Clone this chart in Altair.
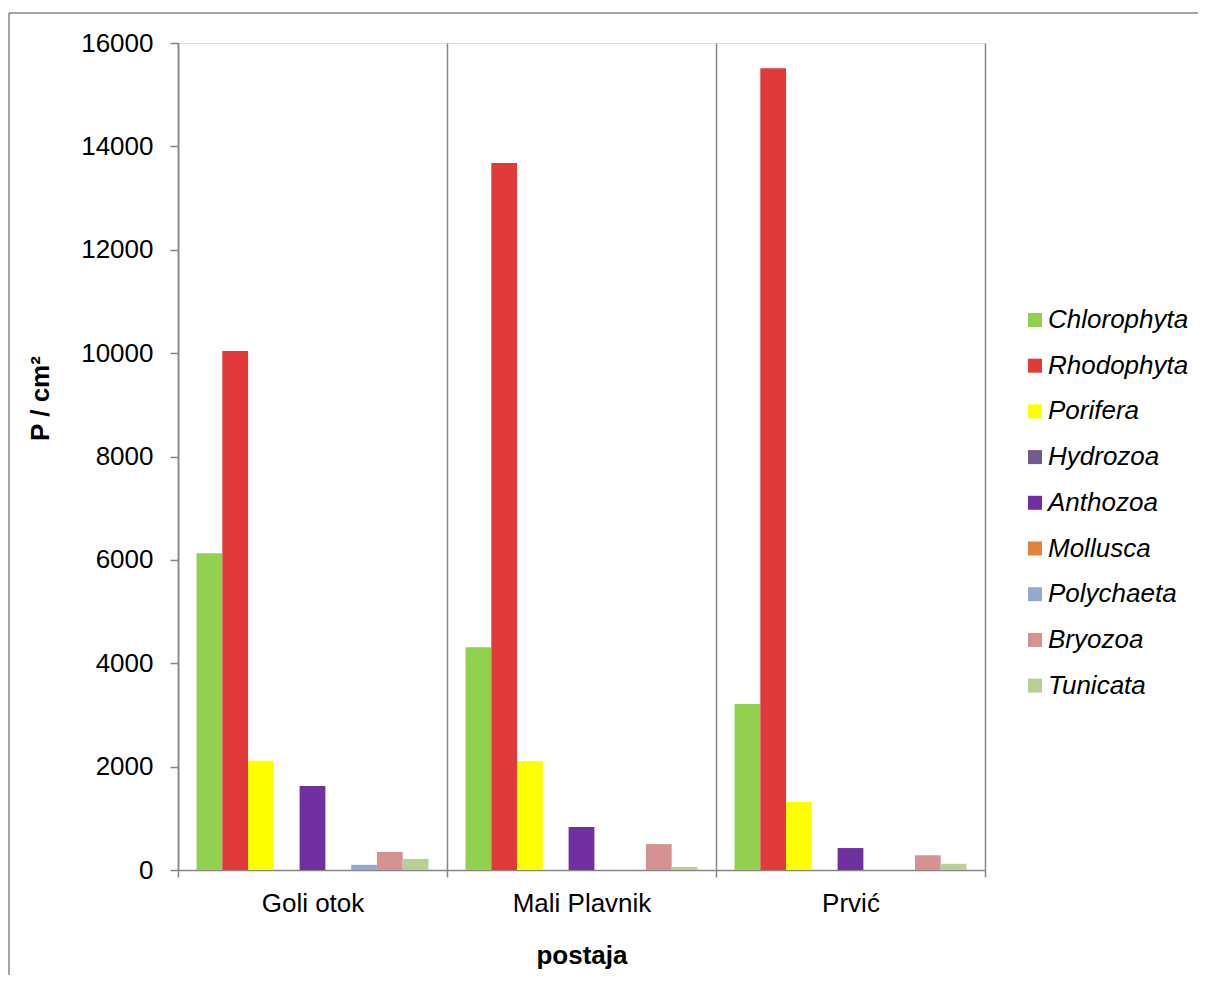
import altair as alt
import pandas as pd

stations = ["Goli otok", "Mali Plavnik", "Prvić"]
taxa = ["Chlorophyta", "Rhodophyta", "Porifera", "Hydrozoa", "Anthozoa",
        "Mollusca", "Polychaeta", "Bryozoa", "Tunicata"]
colors = ["#92D050", "#E03A3A", "#FFFF00", "#72598F", "#7030A0",
          "#E0843B", "#95A9D0", "#D59292", "#B9CF96"]

chlorophyta = [6130, 4310, 3210]
rhodophyta = [10040, 13680, 15510]
porifera = [2115, 2110, 1315]
hydrozoa = [0, 0, 0]
anthozoa = [1625, 830, 425]
mollusca = [0, 0, 0]
polychaeta = [100, 0, 0]
bryozoa = [350, 500, 285]
tunicata = [215, 60, 120]
y_ticks = [0, 2000, 4000, 6000, 8000, 10000, 12000, 14000, 16000]

series = [chlorophyta, rhodophyta, porifera, hydrozoa, anthozoa,
          mollusca, polychaeta, bryozoa, tunicata]
rows = []
for t, vals in zip(taxa, series):
    for s, v in zip(stations, vals):
        rows.append({"station": s, "taxon": t, "value": v})
df = pd.DataFrame(rows)

FONT = "Liberation Sans"
GRAY = "#868686"
W, H = 807, 827

bars = alt.Chart(df).mark_bar().encode(
    x=alt.X("station:N", sort=stations,
            scale=alt.Scale(paddingInner=0, paddingOuter=0),
            axis=alt.Axis(title="postaja", tickBand="extent", grid=True,
                          gridColor=GRAY, gridWidth=1.5,
                          domainColor=GRAY, domainWidth=1.5,
                          tickColor=GRAY, tickWidth=1.5, tickSize=7,
                          labelAngle=0, labelFontSize=26, labelFont=FONT,
                          labelColor="black", labelPadding=13,
                          titleFontSize=26, titleFont=FONT, titleColor="black",
                          titleFontWeight="bold", titleY=85,
                          titleBaseline="middle")),
    xOffset=alt.XOffset("taxon:N", sort=taxa,
                        scale=alt.Scale(paddingInner=0, paddingOuter=0.72)),
    y=alt.Y("value:Q", scale=alt.Scale(domain=[0, 16000], nice=False),
            axis=alt.Axis(values=y_ticks, format="d", title="P / cm²",
                          grid=False, domainColor=GRAY, domainWidth=1.5,
                          tickColor=GRAY, tickWidth=1.5, tickSize=8,
                          labelFontSize=26, labelFont=FONT, labelColor="black",
                          labelPadding=17,
                          titleFontSize=26, titleFont=FONT, titleColor="black",
                          titleFontWeight="bold", titleX=-138, titleY=355,
                          titleBaseline="middle", titleAngle=270)),
    color=alt.Color("taxon:N", sort=taxa,
                    scale=alt.Scale(domain=taxa, range=colors),
                    legend=alt.Legend(title=None, orient="none",
                                      legendX=844, legendY=264,
                                      symbolType="square", symbolSize=196,
                                      symbolStrokeWidth=0,
                                      labelFontSize=26, labelFont=FONT,
                                      labelFontStyle="italic",
                                      labelColor="black", labelOffset=0,
                                      rowPadding=19.7, padding=0)),
)

deco = pd.DataFrame({"k": [0]})
top_border = alt.Chart(deco).mark_rule(color=GRAY, strokeWidth=1.5).encode(
    x=alt.value(-169), x2=alt.value(1040), y=alt.value(-30))
left_border = alt.Chart(deco).mark_rule(color=GRAY, strokeWidth=1.5).encode(
    x=alt.value(-169), y=alt.value(-30), y2=alt.value(950))

chart = alt.layer(bars, top_border, left_border).properties(
    width=W, height=H,
    autosize=alt.AutoSizeParams(type="none"),
    padding={"left": 170, "top": 35, "right": 213, "bottom": 105},
).configure_view(stroke=None).configure(background="white")

chart.save("out.html", embed_options={"renderer": "svg", "actions": False})
